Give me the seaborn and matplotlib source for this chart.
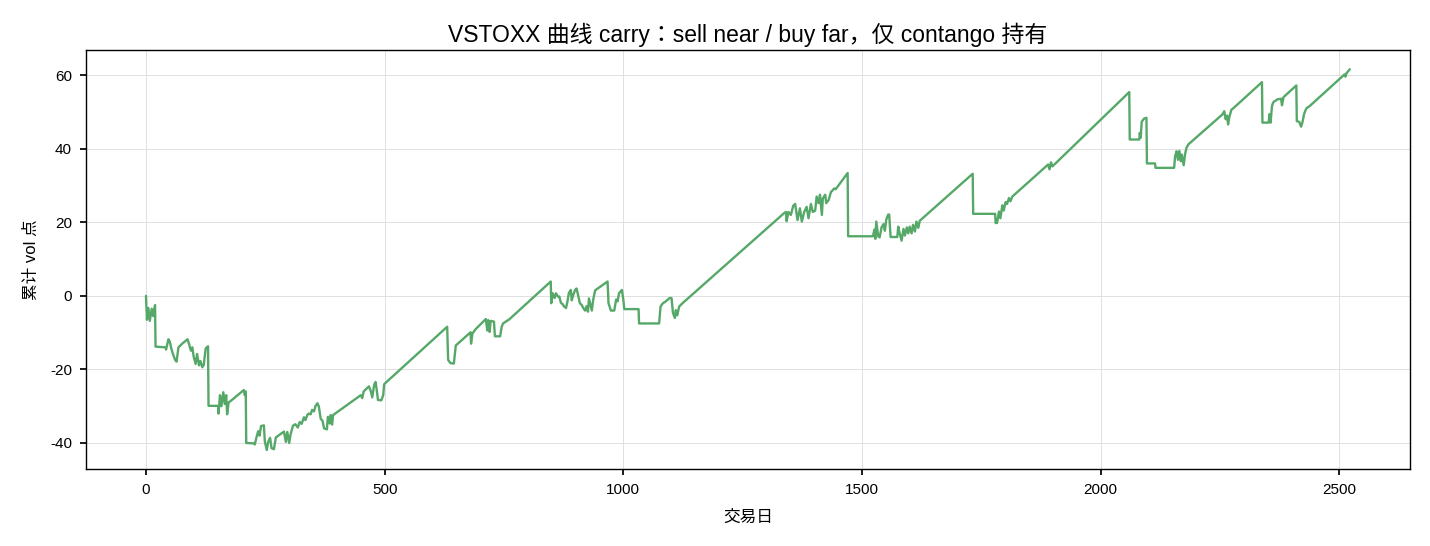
import matplotlib
matplotlib.use("Agg")
import matplotlib.pyplot as plt
import seaborn as sns
import pandas as pd

# Trading day index and cumulative P&L (vol points)
days = [0, 2, 5, 8, 12, 15, 19, 20, 41, 42, 47, 50, 53, 57, 61, 64, 68, 75, 87, 90,
        94, 97, 100, 104, 107, 111, 114, 118, 121, 125, 130, 131, 151, 152, 155, 158, 162, 165, 168, 170,
        173, 180, 205, 207, 209, 210, 226, 228, 231, 235, 238, 241, 247, 249, 253, 256, 260, 263, 268, 272,
        289, 293, 296, 300, 303, 308, 313, 318, 322, 326, 331, 334, 338, 341, 345, 348, 352, 355, 359, 362,
        366, 370, 373, 379, 381, 385, 387, 390, 392, 450, 453, 456, 464, 467, 471, 474, 478, 481, 483, 486,
        493, 497, 499, 631, 633, 638, 645, 649, 680, 681, 684, 691, 712, 715, 717, 720, 722, 729, 731, 742,
        745, 748, 754, 761, 848, 849, 852, 856, 859, 863, 866, 869, 873, 876, 880, 883, 886, 890, 892, 895,
        899, 902, 906, 909, 913, 916, 920, 923, 926, 928, 931, 934, 937, 941, 967, 969, 974, 981, 985, 988,
        991, 997, 1000, 1002, 1032, 1033, 1075, 1078, 1083, 1088, 1097, 1101, 1104, 1108, 1110, 1113, 1117, 1124, 1337, 1341,
        1342, 1346, 1351, 1356, 1360, 1365, 1370, 1374, 1379, 1384, 1388, 1393, 1397, 1402, 1405, 1409, 1412, 1416, 1418, 1423,
        1425, 1430, 1435, 1442, 1445, 1470, 1471, 1523, 1526, 1528, 1530, 1534, 1537, 1541, 1545, 1548, 1551, 1555, 1557, 1560,
        1574, 1576, 1579, 1583, 1587, 1590, 1594, 1597, 1600, 1604, 1607, 1611, 1614, 1618, 1621, 1732, 1733, 1779, 1780, 1783,
        1787, 1790, 1794, 1797, 1801, 1804, 1808, 1811, 1815, 1890, 1893, 1896, 1899, 2060, 2061, 2081, 2082, 2084, 2086, 2091,
        2096, 2097, 2114, 2115, 2154, 2156, 2159, 2162, 2165, 2168, 2170, 2174, 2177, 2180, 2184, 2255, 2259, 2262, 2265, 2267,
        2270, 2274, 2278, 2338, 2339, 2352, 2354, 2356, 2359, 2361, 2363, 2366, 2370, 2378, 2380, 2383, 2410, 2411, 2416, 2420,
        2423, 2426, 2429, 2432, 2438, 2511, 2513, 2515, 2522]

pnl = [0.0, -6.5, -3.3, -6.8, -3.5, -5.5, -2.5, -13.8, -14.0, -14.6, -11.8, -12.5, -14.3, -16.0, -17.4, -17.9, -14.0, -13.1, -11.8, -13.0,
       -14.9, -14.0, -16.6, -18.5, -15.8, -18.9, -17.7, -19.4, -18.8, -14.3, -13.7, -29.9, -29.9, -32.0, -27.0, -30.0, -26.2, -29.4, -27.0, -32.2,
       -29.0, -28.3, -25.6, -27.0, -26.0, -40.0, -40.1, -40.4, -38.7, -36.8, -38.0, -35.4, -35.2, -39.6, -41.9, -39.7, -38.6, -41.4, -41.7, -38.5,
       -36.9, -39.7, -37.0, -40.0, -37.6, -35.3, -34.9, -35.8, -34.3, -34.8, -33.0, -33.8, -32.4, -32.0, -32.2, -31.0, -31.4, -30.0, -29.2, -30.0,
       -33.4, -34.0, -36.0, -36.3, -32.9, -34.7, -32.4, -35.0, -32.4, -27.0, -27.8, -26.0, -25.0, -24.6, -25.9, -27.6, -24.2, -23.4, -25.2, -28.3,
       -28.4, -27.0, -24.0, -8.4, -17.4, -18.3, -18.4, -13.5, -9.9, -13.0, -10.2, -9.0, -6.3, -9.4, -6.6, -9.8, -6.8, -7.0, -11.0, -11.0,
       -8.5, -7.5, -7.0, -6.4, 3.9, -2.0, 0.7, -0.6, 0.7, -0.2, -0.2, -1.8, -2.3, -2.9, -3.3, -1.5, 0.8, 1.6, -1.2, 0.2,
       1.6, 2.0, -0.2, -2.0, -2.5, -3.3, -4.0, -2.8, -4.3, -0.7, -2.4, -4.0, -1.0, 1.5, 3.9, -2.0, -4.0, -4.0, -1.0, -1.5,
       0.7, 1.6, -1.0, -3.6, -3.6, -7.5, -7.5, -2.9, -2.0, -1.6, -0.6, -0.6, -4.6, -6.0, -3.9, -5.3, -2.9, -2.0, 22.5, 22.8,
       20.3, 22.8, 22.0, 24.5, 25.0, 20.6, 23.8, 20.2, 22.8, 24.2, 21.1, 25.0, 22.8, 23.2, 27.0, 25.2, 27.5, 22.0, 26.5, 27.5,
       25.2, 26.0, 28.2, 29.2, 29.0, 33.4, 16.2, 16.2, 18.0, 15.5, 20.2, 16.2, 15.9, 18.6, 19.5, 17.7, 20.8, 22.1, 22.1, 16.0,
       16.0, 18.8, 17.0, 15.0, 18.2, 16.4, 18.6, 17.0, 18.8, 17.0, 19.3, 17.5, 20.2, 18.5, 20.4, 33.2, 22.3, 22.3, 19.8, 19.8,
       22.9, 21.1, 24.6, 23.2, 25.5, 25.0, 26.6, 25.7, 27.0, 35.7, 34.4, 36.3, 35.2, 55.4, 42.5, 42.5, 44.3, 43.0, 47.3, 48.2,
       48.4, 36.0, 36.0, 34.8, 34.8, 37.9, 39.3, 37.0, 39.4, 36.6, 38.4, 35.5, 38.6, 40.3, 41.2, 49.3, 50.2, 48.0, 49.0, 46.6,
       48.8, 50.6, 51.0, 58.1, 47.1, 47.1, 49.4, 47.1, 51.6, 52.4, 52.8, 53.0, 53.4, 53.6, 51.8, 54.0, 57.2, 47.5, 47.3, 46.0,
       47.3, 49.3, 50.4, 51.1, 51.6, 60.2, 59.6, 60.5, 61.6]

title = "VSTOXX 曲线 carry：sell near / buy far，仅 contango 持有"
xlabel = "交易日"
ylabel = "累计 vol 点"

sns.set_theme(style="ticks")
plt.rcParams["font.family"] = ["Liberation Sans", "Noto Sans CJK KR", "DejaVu Sans"]
plt.rcParams["axes.unicode_minus"] = False
for k in ["text.color", "axes.labelcolor", "xtick.color", "ytick.color", "axes.edgecolor"]:
    plt.rcParams[k] = "black"

df = pd.DataFrame({"day": days, "pnl": pnl})

fig, ax = plt.subplots(figsize=(14.3, 5.46), dpi=100)
sns.lineplot(data=df, x="day", y="pnl", ax=ax, color="#55A868", linewidth=1.7,
             sort=False, estimator=None)

ax.set_title(title, fontsize=16.5, pad=6)
ax.set_xlabel(xlabel, fontsize=12, labelpad=9)
ax.set_ylabel(ylabel, fontsize=12, labelpad=8)
ax.tick_params(labelsize=11, length=4, pad=6, color="black", labelcolor="black")
ax.grid(True, color="#e0e0e0", linewidth=0.7)
for s in ax.spines.values():
    s.set_color("black")
    s.set_linewidth(1.0)
ax.set_xticks([0, 500, 1000, 1500, 2000, 2500])
ax.set_yticks([-40, -20, 0, 20, 40, 60])
ax.margins(x=0.05, y=0.05)

fig.subplots_adjust(left=0.060, right=0.986, bottom=0.141, top=0.908)
fig.savefig("out.png", dpi=100)
